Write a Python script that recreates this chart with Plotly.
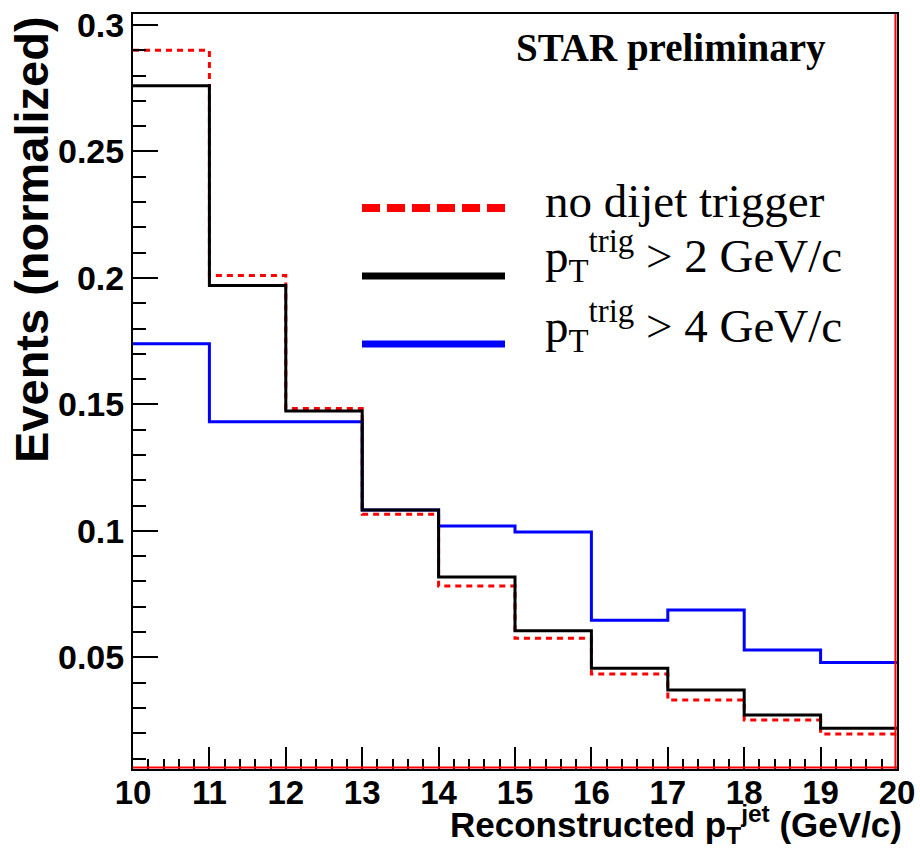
import plotly.graph_objects as go

# ---- data ----
bin_edges = [10, 11, 12, 13, 14, 15, 16, 17, 18, 19, 20]
no_dijet = [0.290, 0.201, 0.1484, 0.1066, 0.0782, 0.0575, 0.0434, 0.0331, 0.0252, 0.0197]
trig2 = [0.276, 0.197, 0.1474, 0.1082, 0.0818, 0.0605, 0.0457, 0.0371, 0.0272, 0.0220]
trig4 = [0.174, 0.1431, 0.1431, 0.1082, 0.1019, 0.0996, 0.0647, 0.0687, 0.0529, 0.0480]
ytick_vals = [0.05, 0.1, 0.15, 0.2, 0.25, 0.3]
ytick_text = ["0.05", "0.1", "0.15", "0.2", "0.25", "0.3"]
xtick_vals = [10, 11, 12, 13, 14, 15, 16, 17, 18, 19, 20]
legend_labels = ["no dijet trigger",
                 "p<sub>T</sub><sup>trig</sup> > 2 GeV/c",
                 "p<sub>T</sub><sup>trig</sup> > 4 GeV/c"]
series_colors = ["#ff0000", "#000000", "#0000ff"]

W, H = 920, 852
L, R, T, B = 133, 23, 14, 83
PW, PH = W - L - R, H - T - B


def px(x):
    return (x - L) / PW


def py(y):
    return (H - B - y) / PH


def step(vals):
    return list(vals) + [vals[-1]]


fig = go.Figure()
fig.add_trace(go.Scatter(x=bin_edges, y=step(no_dijet), mode="lines", line_shape="hv",
                         line=dict(color=series_colors[0], width=3, dash="6px,5px"),
                         showlegend=False))
fig.add_trace(go.Scatter(x=bin_edges, y=step(trig4), mode="lines", line_shape="hv",
                         line=dict(color=series_colors[2], width=3), showlegend=False))
fig.add_trace(go.Scatter(x=bin_edges, y=step(trig2), mode="lines", line_shape="hv",
                         line=dict(color=series_colors[1], width=3), showlegend=False))

shapes = []
# red frame parts (bottom and right)
shapes.append(dict(type="line", xref="paper", yref="paper", x0=0, x1=1, y0=0.002, y1=0.002,
                   line=dict(color="#ff0000", width=2), layer="above"))
shapes.append(dict(type="line", xref="paper", yref="paper", x0=0.998, x1=0.998, y0=0, y1=1,
                   line=dict(color="#ff0000", width=2), layer="above"))

# legend samples
leg_y = [208, 276, 344]
leg_w = [8, 7, 7]
leg_dash = ["18px,7px", "solid", "solid"]
for i in range(3):
    shapes.append(dict(type="line", xref="paper", yref="paper",
                       x0=px(362), x1=px(505), y0=py(leg_y[i]), y1=py(leg_y[i]),
                       line=dict(color=series_colors[i], width=leg_w[i], dash=leg_dash[i])))

annotations = []
leg_text_y = [201, 256, 326]
for i in range(3):
    annotations.append(dict(xref="paper", yref="paper", x=px(543), y=py(leg_text_y[i]),
                            xanchor="left", yanchor="middle", showarrow=False,
                            text=legend_labels[i],
                            font=dict(family="Liberation Serif", size=47, color="black")))
annotations.append(dict(xref="paper", yref="paper", x=px(828), y=py(48),
                        xanchor="right", yanchor="middle", showarrow=False,
                        text="STAR preliminary",
                        font=dict(family="Liberation Serif", size=39, color="black", weight="bold")))
annotations.append(dict(xref="paper", yref="paper", x=px(904), y=py(824),
                        xanchor="right", yanchor="middle", showarrow=False,
                        text="Reconstructed p<sub>T</sub><sup>jet</sup> (GeV/c)",
                        font=dict(family="Liberation Sans", size=35, color="black", weight="bold")))
annotations.append(dict(xref="paper", yref="paper", x=px(31), y=py(240),
                        xanchor="center", yanchor="middle", showarrow=False, textangle=-90,
                        text="Events (normalized)",
                        font=dict(family="Liberation Sans", size=47, color="black", weight="bold")))

fig.update_layout(
    width=W, height=H,
    margin=dict(l=L, r=R, t=T, b=B, pad=0, autoexpand=False),
    paper_bgcolor="white", plot_bgcolor="white",
    shapes=shapes, annotations=annotations,
    showlegend=False,
)
fig.update_xaxes(range=[10, 20], tickvals=xtick_vals, ticktext=[str(v) for v in xtick_vals],
                 automargin=False, ticklabelstandoff=-7,
                 showgrid=False, zeroline=False, showline=True, linecolor="black", linewidth=2,
                 mirror=True, ticks="inside", ticklen=22, tickwidth=2, tickcolor="black",
                 tickfont=dict(family="Liberation Sans", size=33, color="black", weight="bold"),
                 minor=dict(dtick=0.2, tick0=10, ticks="inside", ticklen=10, tickwidth=2,
                            tickcolor="black", showgrid=False))
fig.update_yaxes(range=[0.00585, 0.30435], tickvals=ytick_vals, ticktext=ytick_text,
                 automargin=False,
                 showgrid=False, zeroline=False, showline=True, linecolor="black", linewidth=2,
                 mirror=True, ticks="inside", ticklen=25, tickwidth=2, tickcolor="black",
                 tickfont=dict(family="Liberation Sans", size=34, color="black", weight="bold"),
                 minor=dict(dtick=0.01, tick0=0, ticks="inside", ticklen=13, tickwidth=2,
                            tickcolor="black", showgrid=False))

fig.write_html("out.html")
